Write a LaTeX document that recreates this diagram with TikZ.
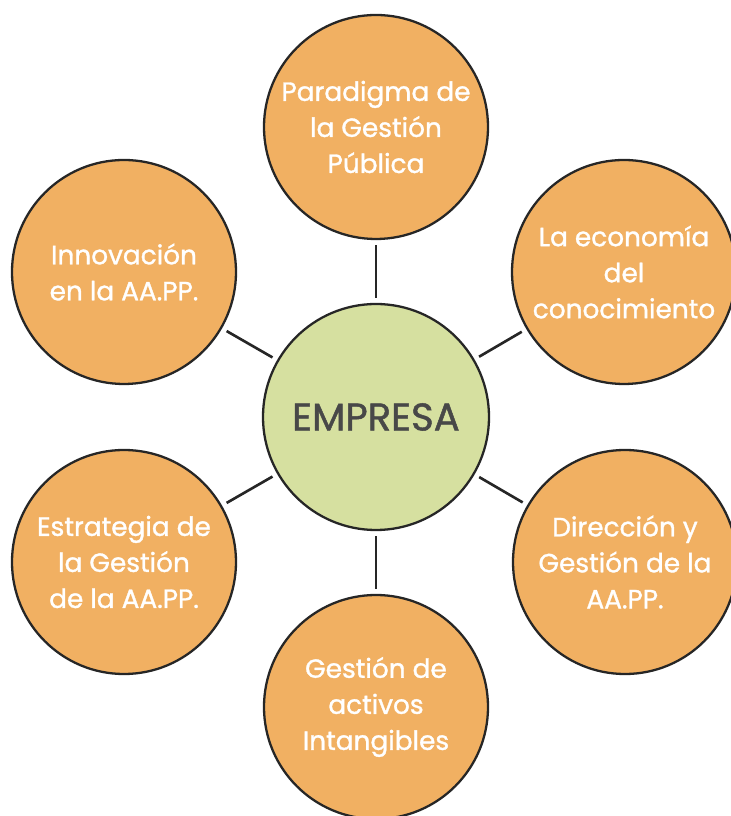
\documentclass[tikz,border=0pt]{standalone}
\usepackage{fontspec}
\setmainfont{Poppins}[Ligatures=NoCommon]
\newfontfamily\temafont{Poppins}[Ligatures=NoCommon,FakeBold=1.2]
\usepackage{xcolor}
\usepackage{tikz}

\definecolor{naranja}{RGB}{241,176,98}
\definecolor{verde}{RGB}{214,224,160}
\definecolor{gristexto}{RGB}{72,72,72}
\tikzset{
	tema/.style={circle,draw=black!85,line width=1.3pt,fill=naranja,minimum size=4.48cm,inner sep=0pt,align=center,text=white,font=\temafont\fontsize{15}{20.5}\selectfont},
	centro/.style={circle,draw=black!85,line width=1.3pt,fill=verde,minimum size=4.52cm,inner sep=0pt,text=gristexto,font=\temafont\fontsize{22}{26}\selectfont},
	enlace/.style={line width=1.5pt,draw=black!85,shorten <=3pt,shorten >=3pt}
}

\begin{document}
\begin{tikzpicture}
	\useasboundingbox (-7.52,-7.98) rectangle (7.08,8.34);
	%
	\node[centro] (emp) at (0,0) {EMPRESA};
	\node[tema] (par) at (0,5.8) {Paradigma de\\la Gestión\\Pública};
	\node[tema] (eco) at (4.96,2.9) {La economía\\del\\conocimiento};
	\node[tema] (dir) at (4.98,-2.9) {Dirección y\\Gestión de la\\AA.PP.};
	\node[tema] (act) at (0,-5.8) {Gestión de\\activos\\Intangibles};
	\node[tema] (est) at (-5.04,-2.9) {Estrategia de\\la Gestión\\de la AA.PP.};
	\node[tema] (inn) at (-5.04,2.9) {Innovación\\en la AA.PP.};
	%
	\draw[enlace] (emp) -- (par);
	\draw[enlace] (emp) -- (eco);
	\draw[enlace] (emp) -- (dir);
	\draw[enlace] (emp) -- (act);
	\draw[enlace] (emp) -- (est);
	\draw[enlace] (emp) -- (inn);
\end{tikzpicture}
\end{document}
